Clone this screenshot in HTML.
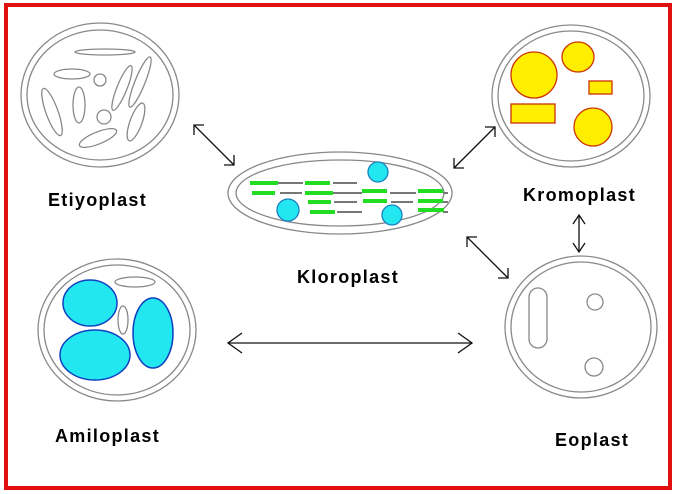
<!DOCTYPE html>
<html><head><style>
html,body{margin:0;padding:0;background:#fff;}
svg{display:block;}
text{font-family:"Liberation Sans",Arial,sans-serif;font-weight:bold;font-size:18px;letter-spacing:1.3px;fill:#000;}
</style></head><body>
<svg width="680" height="494" viewBox="0 0 680 494" xmlns="http://www.w3.org/2000/svg">
<rect x="0" y="0" width="680" height="494" fill="#fff"/>
<rect x="6" y="5" width="664" height="483" fill="none" stroke="#e01010" stroke-width="4"/>
<g fill="none" stroke="#888" stroke-width="1.3">
<ellipse cx="100" cy="95" rx="79" ry="72"/>
<ellipse cx="100" cy="95" rx="73" ry="65"/>
<ellipse cx="105" cy="52" rx="30" ry="3"/>
<ellipse cx="72" cy="74" rx="18" ry="5"/>
<circle cx="100" cy="80" r="6"/>
<circle cx="104" cy="117" r="7"/>
<ellipse cx="79" cy="105" rx="6" ry="18"/>
<ellipse cx="52" cy="112" rx="6" ry="25" transform="rotate(-20 52 112)"/>
<ellipse cx="122" cy="88" rx="5" ry="24" transform="rotate(22 122 88)"/>
<ellipse cx="140" cy="82" rx="5" ry="27" transform="rotate(22 140 82)"/>
<ellipse cx="136" cy="122" rx="6" ry="20" transform="rotate(20 136 122)"/>
<ellipse cx="98" cy="138" rx="20" ry="6" transform="rotate(-22 98 138)"/>
<ellipse cx="340" cy="193" rx="112" ry="41"/>
<ellipse cx="340" cy="193" rx="104" ry="33"/>
<ellipse cx="571" cy="96" rx="79" ry="71"/>
<ellipse cx="571" cy="96" rx="73" ry="65"/>
<ellipse cx="581" cy="327" rx="76" ry="71"/>
<ellipse cx="581" cy="327" rx="70" ry="65"/>
<rect x="529" y="288" width="18" height="60" rx="9"/>
<circle cx="595" cy="302" r="8"/>
<circle cx="594" cy="367" r="9"/>
<ellipse cx="117" cy="330" rx="79" ry="71"/>
<ellipse cx="117" cy="330" rx="73" ry="65"/>
<ellipse cx="135" cy="282" rx="20" ry="5"/>
<ellipse cx="123" cy="320" rx="5" ry="14"/>
</g>
<g stroke="#777" stroke-width="2">
<line x1="278" y1="183" x2="303" y2="183"/><line x1="333" y1="183" x2="357" y2="183"/>
<line x1="280" y1="193" x2="302" y2="193"/><line x1="333" y1="193" x2="362" y2="193"/><line x1="390" y1="193" x2="416" y2="193"/><line x1="443" y1="193" x2="448" y2="193"/>
<line x1="334" y1="202" x2="357" y2="202"/><line x1="391" y1="202" x2="413" y2="202"/><line x1="443" y1="202" x2="448" y2="202"/>
<line x1="337" y1="212" x2="362" y2="212"/><line x1="443" y1="212" x2="448" y2="212"/>
</g>
<g stroke="#22dd22" stroke-width="4">
<line x1="250" y1="183" x2="278" y2="183"/><line x1="305" y1="183" x2="330" y2="183"/>
<line x1="252" y1="193" x2="275" y2="193"/><line x1="305" y1="193" x2="333" y2="193"/><line x1="362" y1="191" x2="387" y2="191"/><line x1="418" y1="191" x2="443" y2="191"/>
<line x1="308" y1="202" x2="331" y2="202"/><line x1="363" y1="201" x2="387" y2="201"/><line x1="418" y1="201" x2="443" y2="201"/>
<line x1="310" y1="212" x2="335" y2="212"/><line x1="418" y1="210" x2="444" y2="210"/>
</g>
<g fill="#22e6f0" stroke="#1a7fc0" stroke-width="1.3">
<circle cx="288" cy="210" r="11"/><circle cx="378" cy="172" r="10"/><circle cx="392" cy="215" r="10"/>
</g>
<g fill="#ffee00" stroke="#cc3300" stroke-width="1.3">
<circle cx="534" cy="75" r="23"/>
<ellipse cx="578" cy="57" rx="16" ry="15"/>
<rect x="589" y="81" width="23" height="13"/>
<rect x="511" y="104" width="44" height="19"/>
<circle cx="593" cy="127" r="19"/>
</g>
<g fill="#22e6f0" stroke="#1040c0" stroke-width="1.5">
<ellipse cx="90" cy="303" rx="27" ry="23"/>
<ellipse cx="95" cy="355" rx="35" ry="25"/>
<ellipse cx="153" cy="333" rx="20" ry="35"/>
</g>
<g fill="none" stroke="#111" stroke-width="1.3">
<line x1="194" y1="125" x2="234" y2="165"/><polyline points="204,125 194,125 194,135"/><polyline points="224,165 234,165 234,155"/>
<line x1="454" y1="168" x2="495" y2="127"/><polyline points="454,158 454,168 464,168"/><polyline points="485,127 495,127 495,137"/>
<line x1="467" y1="237" x2="508" y2="278"/><polyline points="467,247 467,237 477,237"/><polyline points="498,278 508,278 508,268"/>
<line x1="579" y1="215" x2="579" y2="252"/><polyline points="573,224 579,215 585,224"/><polyline points="573,243 579,252 585,243"/>
<line x1="228" y1="343" x2="472" y2="343"/><polyline points="242,333 228,343 242,353"/><polyline points="458,333 472,343 458,353"/>
</g>
<text x="48" y="206">Etiyoplast</text>
<text x="297" y="283">Kloroplast</text>
<text x="523" y="201">Kromoplast</text>
<text x="55" y="442">Amiloplast</text>
<text x="555" y="446">Eoplast</text>
</svg>
</body></html>
